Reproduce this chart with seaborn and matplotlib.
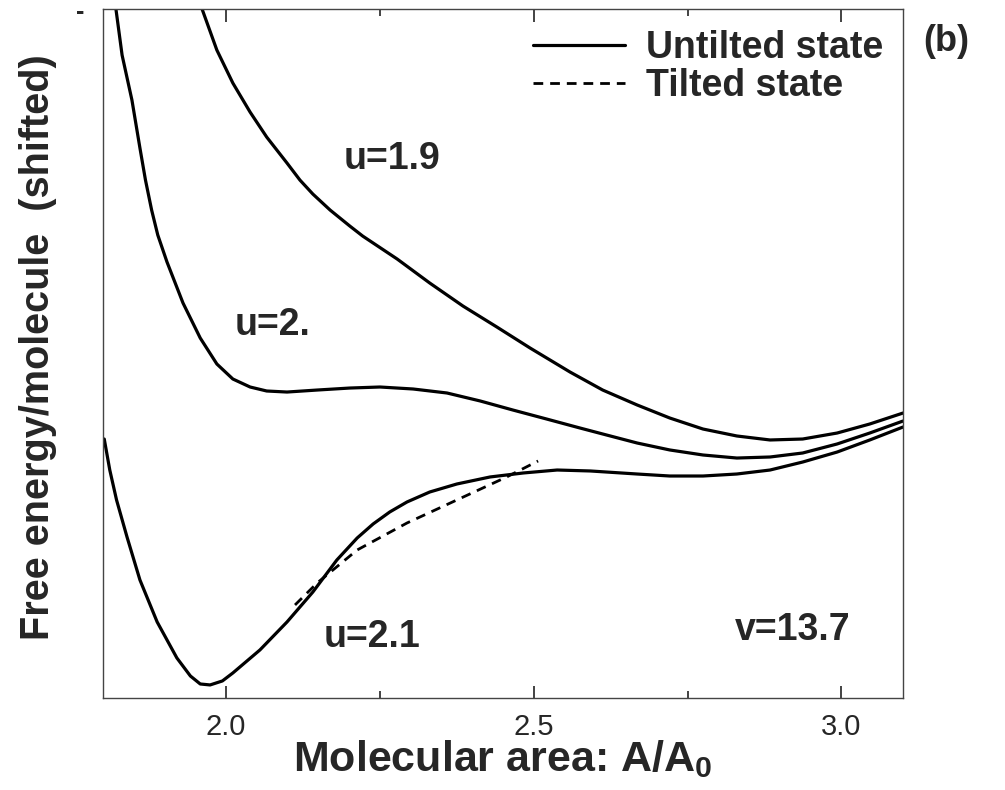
import numpy as np
import pandas as pd
import matplotlib
matplotlib.use("Agg")
import matplotlib.pyplot as plt
import seaborn as sns
from matplotlib.lines import Line2D

# curves (y is the shifted energy, arbitrary units)
x_u19 = [1.961, 1.985, 2.011, 2.039, 2.066, 2.099, 2.120, 2.141, 2.169, 2.201, 2.222, 2.278,
         2.331, 2.385, 2.440, 2.494, 2.559, 2.612, 2.668, 2.721, 2.775, 2.830, 2.884, 2.937,
         2.993, 3.046, 3.100]
y_u19 = [100.0, 94.05, 89.26, 85.05, 81.42, 77.65, 75.18, 73.15, 70.83, 68.51, 67.05, 63.72,
         60.23, 56.89, 53.85, 50.80, 47.31, 44.70, 42.53, 40.64, 39.04, 38.03, 37.45, 37.59,
         38.46, 39.77, 41.36]

x_u20 = [1.821, 1.831, 1.847, 1.860, 1.869, 1.879, 1.889, 1.904, 1.930, 1.958, 1.985, 2.011,
         2.039, 2.066, 2.099, 2.148, 2.201, 2.250, 2.304, 2.359, 2.413, 2.466, 2.521, 2.575,
         2.612, 2.668, 2.721, 2.775, 2.830, 2.884, 2.937, 2.993, 3.046, 3.100]
y_u20 = [100.0, 93.32, 86.79, 79.83, 75.18, 70.83, 67.20, 63.28, 57.33, 52.25, 48.48, 46.30,
         45.14, 44.56, 44.41, 44.70, 44.99, 45.14, 44.85, 44.27, 43.11, 41.80, 40.49, 39.19,
         38.32, 37.01, 36.00, 35.27, 34.83, 34.98, 35.56, 36.87, 38.46, 40.20]

x_u21 = [1.802, 1.811, 1.822, 1.839, 1.860, 1.888, 1.920, 1.942, 1.958, 1.974, 1.994, 2.011,
         2.055, 2.099, 2.141, 2.180, 2.213, 2.239, 2.266, 2.294, 2.331, 2.375, 2.429, 2.483,
         2.538, 2.592, 2.668, 2.721, 2.775, 2.830, 2.884, 2.937, 2.993, 3.046, 3.100]
y_u21 = [37.59, 33.09, 28.74, 23.37, 17.13, 11.03, 5.81, 3.19, 2.03, 1.89, 2.47, 3.63,
         6.97, 11.03, 15.38, 20.03, 23.22, 25.26, 27.00, 28.45, 29.90, 31.06, 32.08, 32.66,
         33.09, 32.95, 32.51, 32.22, 32.22, 32.51, 33.09, 34.25, 35.70, 37.45, 39.33]

x_tilt = [2.112, 2.148, 2.213, 2.294, 2.375, 2.456, 2.507]
y_tilt = [13.50, 16.69, 21.48, 25.40, 28.74, 32.08, 34.40]

curve_labels = ["u=1.9", "u=2.", "u=2.1", "v=13.7"]
label_x = [2.270, 2.075, 2.237, 2.920]
label_y = [78.2, 54.1, 8.85, 9.8]

sns.set_style("ticks")
plt.rcParams['font.family'] = ['Liberation Sans', 'DejaVu Sans']
plt.rcParams['mathtext.fontset'] = 'custom'
plt.rcParams['mathtext.rm'] = 'Liberation Sans'
plt.rcParams['mathtext.bf'] = 'Liberation Sans:bold'

fig = plt.figure(figsize=(10.05, 7.9), dpi=100)
ax = fig.add_axes([0.1025, 0.1165, 0.796, 0.872])

lw = 2.3
dash = (0, (3.5, 2.5))
sns.lineplot(x=x_u19, y=y_u19, ax=ax, color="k", lw=lw, sort=False, estimator=None)
sns.lineplot(x=x_u20, y=y_u20, ax=ax, color="k", lw=lw, sort=False, estimator=None)
sns.lineplot(x=x_u21, y=y_u21, ax=ax, color="k", lw=lw, sort=False, estimator=None)
sns.lineplot(x=x_tilt, y=y_tilt, ax=ax, color="k", lw=2.0, sort=False, estimator=None,
             linestyle=dash)

for t, xx, yy in zip(curve_labels, label_x, label_y):
    ax.text(xx, yy, t, fontsize=27, fontweight="bold", ha="center", va="center")

ax.set_xlim(1.8, 3.1)
ax.set_ylim(0, 100)
ax.set_xticks([2.0, 2.5, 3.0])
ax.set_xticklabels(["2.0", "2.5", "3.0"])
ax.set_xticks([2.25, 2.75], minor=True)
ax.set_yticks([])
ax.tick_params(axis="x", which="major", direction="in", length=9, width=1.2, top=True,
               bottom=True, labelsize=21, pad=11, color="#222222")
ax.tick_params(axis="x", which="minor", direction="in", length=5, width=1.2, top=True,
               bottom=True, color="#222222")
for s in ax.spines.values():
    s.set_color("#444444")
    s.set_linewidth(1.0)

ax.set_xlabel("Molecular area: A/A$_\\mathbf{0}$", fontsize=31, fontweight="bold", labelpad=-2)
ax.set_ylabel("Free energy/molecule  (shifted)", fontsize=28.5, fontweight="bold")
ax.yaxis.set_label_coords(-0.057, 0.51)

handles = [Line2D([], [], color="k", lw=2.3),
           Line2D([], [], color="k", lw=2.0, linestyle=dash)]
ax.legend(handles, ["Untilted state", "Tilted state"], loc="upper right",
          bbox_to_anchor=(1.008, 1.008), frameon=False, prop={"size": 27, "weight": "bold"},
          handlelength=2.45, handletextpad=0.55, labelspacing=0.05, borderaxespad=0.3)

fig.text(0.942, 0.948, "(b)", fontsize=26, fontweight="bold", ha="center", va="center")
fig.text(0.08, 0.985, "-", fontsize=18, fontweight="bold", ha="center", va="center")

fig.savefig("out.png", dpi=100)
